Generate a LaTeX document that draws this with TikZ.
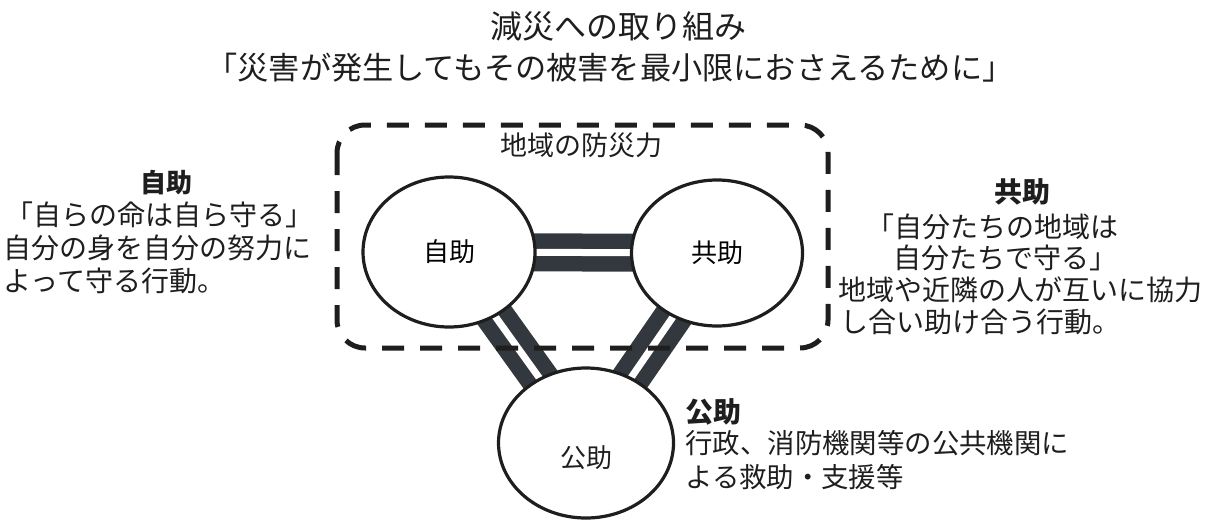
\documentclass[tikz,border=0pt]{standalone}
\usepackage{fontspec}
\setmainfont{Noto Sans CJK JP}
\usetikzlibrary{shapes.geometric,backgrounds}
\definecolor{bandcol}{HTML}{33383E}
\definecolor{inkcol}{HTML}{1E1E1E}
\begin{document}
\begin{tikzpicture}[x=0.5pt,y=-0.5pt,
  circ/.style={ellipse, draw=inkcol, line width=1.6pt, fill=white, inner sep=0pt},
  band/.style={draw=bandcol, line width=7.75pt, double=white, double distance=3.5pt},
  txt/.style={inner sep=0pt, anchor=west, text=inkcol, font=\fontsize{14}{16}\selectfont},
  head/.style={inner sep=0pt, text=inkcol, font=\fontsize{14}{16}\selectfont\bfseries},
  lbl/.style={inner sep=0pt, text=inkcol, font=\fontsize{13}{15}\selectfont},
  region/.style={draw=inkcol, line width=2.5pt, dash pattern=on 11pt off 8pt, rounded corners=14pt}]
\useasboundingbox (0,0) rectangle (1213,519);
% titles
\node[lbl, font=\fontsize{16}{18}\selectfont] (t1) at (618,26) {減災への取り組み};
\node[lbl, font=\fontsize{15.6}{18}\selectfont] (t2) at (610,68) {「災害が発生してもその被害を最小限におさえるために」};
% ellipses
\node[circ, minimum width=86pt, minimum height=75pt, font=\fontsize{13}{15}\selectfont] (jijo) at (449,252) {自助};
\node[circ, minimum width=85.5pt, minimum height=73pt, font=\fontsize{13}{15}\selectfont] (kyojo) at (717,253) {共助};
\node[circ, minimum width=87.5pt, minimum height=75pt] (kojo) at (586,443) {};
\node[lbl] (kojolbl) at (586,458) {公助};
% connectors
\begin{pgfonlayer}{background}
\draw[band] (jijo.center) -- (kyojo.center);
\draw[band] (jijo.center) -- (kojo.center);
\draw[band] (kyojo.center) -- (kojo.center);
\end{pgfonlayer}
% region
\draw[region] (337,125) rectangle (828,348);
\node[lbl, font=\fontsize{13.5}{15}\selectfont] (reg) at (581,145) {地域の防災力};
% left block
\node[head, font=\fontsize{13}{15}\selectfont\bfseries] (h1) at (166,183) {自助};
\node[txt] (l1) at (5,215) {「自らの命は自ら守る」};
\node[txt] (l2) at (3,248) {自分の身を自分の努力に};
\node[txt] (l3) at (3,281) {よって守る行動。};
% right block
\node[head] (h2) at (1022,192) {共助};
\node[txt] (r1) at (866,227) {「自分たちの地域は};
\node[txt] (r2) at (893,258) {自分たちで守る」};
\node[txt] (r3) at (838,290) {地域や近隣の人が互いに協力};
\node[txt] (r4) at (840,322) {し合い助け合う行動。};
% bottom block
\node[head, anchor=west] (h3) at (685,412) {公助};
\node[txt, font=\fontsize{13.7}{16}\selectfont] (b1) at (685,443) {行政、消防機関等の公共機関に};
\node[txt, font=\fontsize{13.7}{16}\selectfont] (b2) at (685,477) {よる救助・支援等};
\end{tikzpicture}
\end{document}
